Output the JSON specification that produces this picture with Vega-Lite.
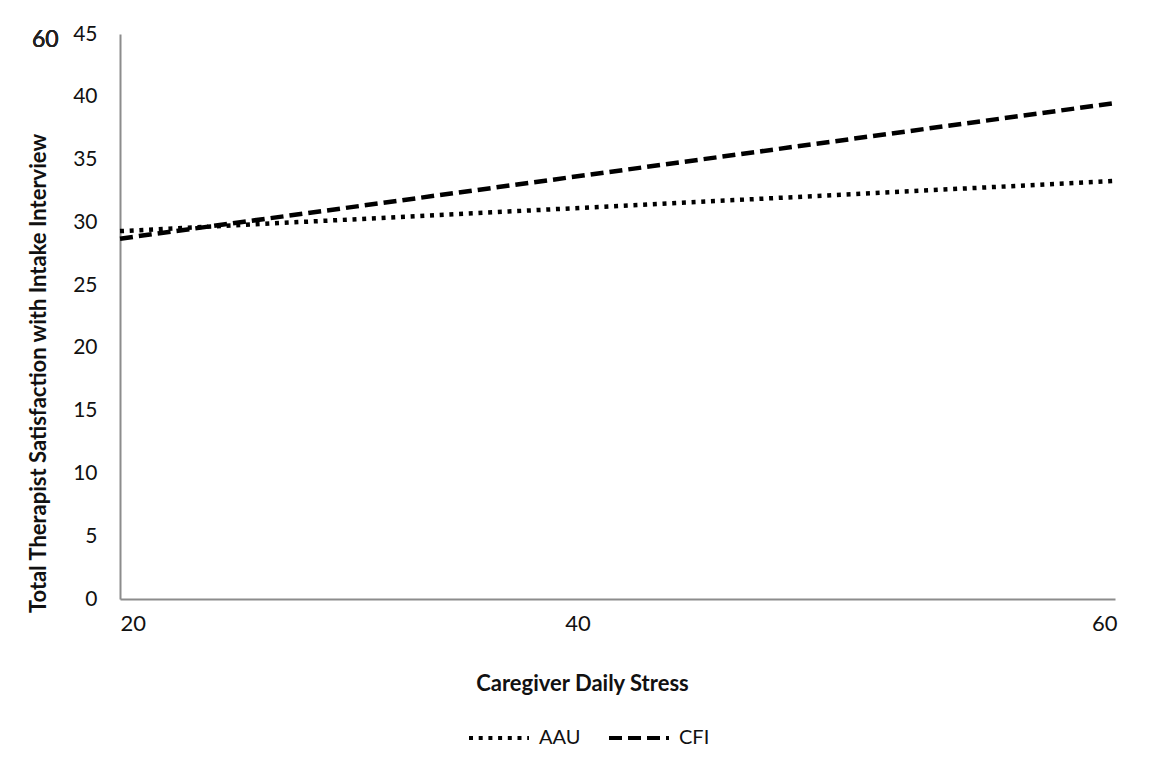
{
  "$schema": "https://vega.github.io/schema/vega-lite/v6.json",
  "autosize": "none",
  "width": 995,
  "height": 565,
  "padding": {"left": 120, "top": 34, "right": 40, "bottom": 173},
  "background": "white",
  "config": {
    "view": {"stroke": null},
    "font": "Lato"
  },
  "data": {
    "values": [
      {"stress": 20, "satisfaction": 29.3, "group": "AAU"},
      {"stress": 60, "satisfaction": 33.3, "group": "AAU"},
      {"stress": 20, "satisfaction": 28.7, "group": "CFI"},
      {"stress": 60, "satisfaction": 39.5, "group": "CFI"}
    ]
  },
  "layer": [
    {
      "mark": {"type": "line", "color": "black", "strokeWidth": 4.5},
      "encoding": {
        "x": {
          "field": "stress",
          "type": "quantitative",
          "scale": {"domain": [20, 60], "nice": false, "zero": false},
          "axis": {
            "values": [20, 40, 60],
            "grid": false,
            "ticks": false,
            "domainColor": "#8c8c8c",
            "domainWidth": 2,
            "labelFontSize": 22,
            "labelColor": "#111",
            "labelPadding": 14,
            "labelAlign": {"expr": "datum.value == 20 ? 'left' : datum.value == 60 ? 'right' : 'center'"},
            "labelOffset": {"expr": "datum.value == 40 ? -40 : datum.value == 60 ? 2 : 0"},
            "title": "Caregiver Daily Stress",
            "titleFontSize": 22,
            "titleFontWeight": "bold",
            "titleColor": "#111",
            "titleX": 462,
            "titleY": 84,
            "titleBaseline": "middle"
          }
        },
        "y": {
          "field": "satisfaction",
          "type": "quantitative",
          "scale": {"domain": [0, 45], "nice": false},
          "axis": {
            "values": [0, 5, 10, 15, 20, 25, 30, 35, 40, 45],
            "grid": false,
            "ticks": false,
            "domainColor": "#8c8c8c",
            "domainWidth": 2,
            "labelFontSize": 21,
            "labelColor": "#111",
            "labelPadding": 23,
            "title": "Total Therapist Satisfaction with Intake Interview",
            "titleFontSize": 22,
            "titleFontWeight": "bold",
            "titleColor": "#111",
            "titleX": -82,
            "titleY": 339,
            "titleAngle": -90,
            "titleBaseline": "middle",
            "titleAlign": "center"
          }
        },
        "strokeDash": {
          "field": "group",
          "type": "nominal",
          "scale": {"domain": ["AAU", "CFI"], "range": [[4, 5.7], [13, 6]]},
          "legend": {
            "title": null,
            "orient": "none",
            "direction": "horizontal",
            "legendX": 347,
            "legendY": 672,
            "symbolType": "stroke",
            "symbolSize": 3600,
            "symbolStrokeWidth": 4,
            "symbolStrokeColor": "black",
            "labelFontSize": 20,
            "labelColor": "#111",
            "labelOffset": 8,
            "columnPadding": 20
          }
        }
      }
    },
    {
      "mark": {"type": "text", "fontSize": 23, "fontWeight": 400, "font": "Lato", "color": "#222", "clip": false, "baseline": "middle", "align": "center"},
      "encoding": {
        "x": {"datum": 17.0, "type": "quantitative"},
        "y": {"datum": 44.5, "type": "quantitative"},
        "text": {"value": "60"}
      }
    }
  ]
}
